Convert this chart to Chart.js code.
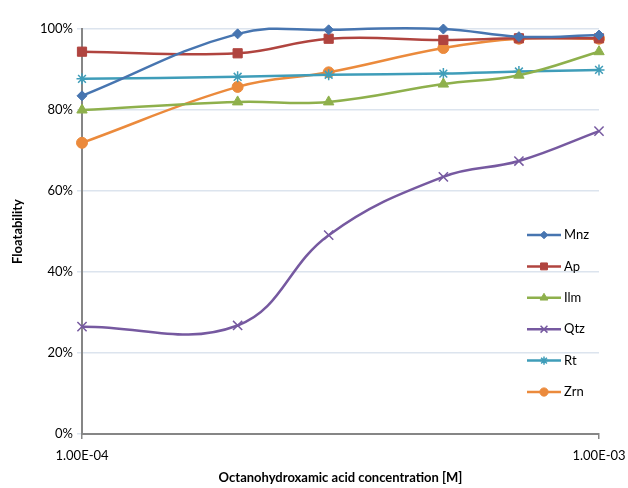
<!DOCTYPE html>
<html><head><meta charset="utf-8">
<script src="https://cdn.jsdelivr.net/npm/chart.js@4.4.1/dist/chart.umd.min.js"></script>
<style>html,body{margin:0;padding:0;background:#fff}#wrap{width:628px;height:488px}</style>
</head><body><div id="wrap"><canvas id="c" width="628" height="488"></canvas></div>
<script>
const concentrations = [1e-4, 2e-4, 3e-4, 5e-4, 7e-4, 1e-3];
const xTickValues = [1e-4, 1e-3];
const xTickLabels = ['1.00E-04', '1.00E-03'];
const yTickValues = [0, 20, 40, 60, 80, 100];
const mnz = [83.5, 98.8, 99.8, 100, 98.1, 98.5];
const ap  = [94.4, 94.0, 97.6, 97.3, 97.7, 97.7];
const ilm = [80.0, 82.0, 82.0, 86.4, 88.6, 94.4];
const qtz = [26.5, 26.8, 49.1, 63.5, 67.4, 74.8];
const rt  = [87.7, 88.2, 88.7, 89.0, 89.5, 89.9];
const zrn = [71.9, 85.7, 89.3, 95.3, 97.6, 97.6];
const seriesNames = ['Mnz', 'Ap', 'Ilm', 'Qtz', 'Rt', 'Zrn'];
const seriesValues = [mnz, ap, ilm, qtz, rt, zrn];
const colors = ['#4775B0', '#B0443F', '#8EB04C', '#7659A0', '#3F9DB9', '#EB8A3C'];
const styles = ['rectRot', 'rect', 'triangle', 'crossRot', 'star', 'circle'];
const radii = [5, 6.5, 6, 6.5, 5.5, 5.5];

const FONT = 'Lato, "Open Sans", sans-serif';

const datasets = seriesNames.map((n, i) => ({
  label: n,
  data: concentrations.map((x, j) => ({x, y: seriesValues[i][j]})),
  borderColor: colors[i],
  backgroundColor: colors[i],
  pointStyle: styles[i],
  pointRadius: radii[i],
  pointBorderWidth: (styles[i] === 'crossRot' || styles[i] === 'star') ? 1.5 : 1,
  borderWidth: 2.5,
  tension: 0.4,
  clip: false,
  fill: false
}));

const legendPlugin = {
  id: 'insideLegend',
  afterDraw(chart) {
    const ctx = chart.ctx;
    const x0 = 527, x1 = 561, tx = 564;
    const y0 = 235, dy = 31.4;
    chart.data.datasets.forEach((ds, i) => {
      const y = y0 + i * dy;
      ctx.save();
      ctx.strokeStyle = ds.borderColor;
      ctx.lineWidth = 2.5;
      ctx.beginPath(); ctx.moveTo(x0, y); ctx.lineTo(x1, y); ctx.stroke();
      ctx.fillStyle = ds.backgroundColor; ctx.strokeStyle = ds.borderColor;
      ctx.lineWidth = ds.pointBorderWidth;
      Chart.helpers.drawPoint(ctx, {
        pointStyle: ds.pointStyle, radius: ds.pointRadius * 0.75, rotation: 0,
        borderWidth: ds.pointBorderWidth
      }, (x0 + x1) / 2, y);
      ctx.fillStyle = '#000';
      ctx.font = '13px ' + FONT;
      ctx.textBaseline = 'middle';
      ctx.textAlign = 'left';
      ctx.fillText(ds.label, tx, y);
      ctx.restore();
    });
  }
};

new Chart(document.getElementById('c'), {
  type: 'line',
  data: { datasets },
  plugins: [legendPlugin],
  options: {
    responsive: false,
    animation: false,
    devicePixelRatio: 1,
    layout: { padding: { left: 0, right: 29, top: 29, bottom: 0 } },
    elements: { line: { capBezierPoints: false } },
    plugins: { legend: { display: false }, tooltip: { enabled: false } },
    scales: {
      x: {
        type: 'logarithmic',
        min: 1e-4, max: 1e-3,
        afterBuildTicks(scale) { scale.ticks = xTickValues.map(v => ({value: v})); },
        afterFit(scale) { scale.height = 54; scale.paddingLeft = 0; scale.paddingRight = 0; },
        ticks: {
          autoSkip: false, maxRotation: 0,
          color: '#000', font: { size: 13, family: FONT }, padding: 9,
          callback(v) { const k = xTickValues.indexOf(v); return k >= 0 ? xTickLabels[k] : ''; }
        },
        grid: { display: true, drawOnChartArea: false, drawTicks: true, tickLength: 5, color: '#868686', lineWidth: 1.5 },
        border: { display: true, color: '#868686', width: 2 },
        title: { display: true, text: 'Octanohydroxamic acid concentration [M]', color: '#000',
                 font: { size: 13, weight: 'bold', family: FONT }, padding: { top: 10, bottom: 2 } }
      },
      y: {
        min: 0, max: 100,
        afterBuildTicks(scale) { scale.ticks = yTickValues.map(v => ({value: v})); },
        afterFit(scale) { scale.width = 82; scale.paddingTop = 0; scale.paddingBottom = 0; },
        ticks: { color: '#000', font: { size: 13, family: FONT }, padding: 4,
                 callback: v => v + '%' },
        grid: { color: '#DCE4EE', lineWidth: 1.5, drawTicks: true, tickLength: 5 },
        border: { display: true, color: '#868686', width: 2 },
        title: { display: true, text: 'Floatability', color: '#000',
                 font: { size: 13, weight: 'bold', family: FONT }, padding: { top: 10, bottom: 8 } }
      }
    }
  }
});
</script></body></html>
